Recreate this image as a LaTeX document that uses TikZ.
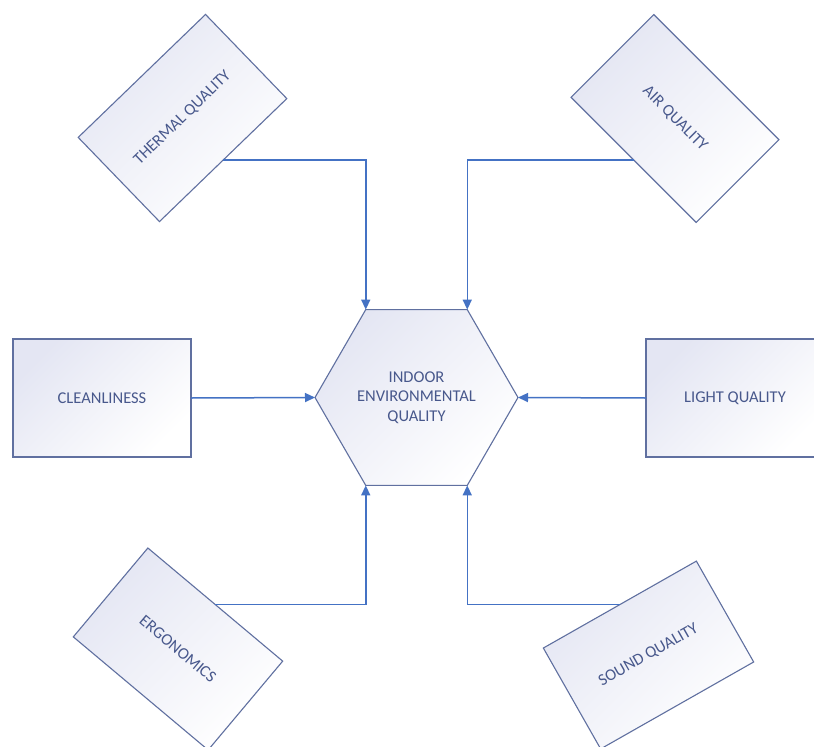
\documentclass[tikz,border=0pt]{standalone}
\usepackage{fontspec}
\setmainfont{Carlito}
\usetikzlibrary{shapes.geometric,arrows.meta}
\definecolor{txt}{RGB}{72,88,140}
\definecolor{edge}{RGB}{96,112,160}
\definecolor{arrc}{RGB}{68,114,196}
\definecolor{lav}{RGB}{228,230,243}
\tikzset{
  box/.style={draw=edge, line width=1.1pt, inner sep=0pt, outer sep=0pt,
    minimum width=177pt, minimum height=117pt, text=txt,
    font=\fontsize{16.5}{19.6}\selectfont,
    top color=lav, bottom color=white, shading angle=45},
  hexbox/.style={draw=edge, line width=1.1pt, regular polygon, regular polygon sides=6,
    minimum size=203pt, inner sep=0pt, outer sep=0pt, text=txt, align=center,
    font=\fontsize{16.5}{19.6}\selectfont,
    top color=lav, bottom color=white, shading angle=45},
  arr/.style={draw=arrc, line width=1.5pt, -{Triangle[length=10pt,width=9pt]}}
}
\begin{document}
\begin{tikzpicture}[x=1pt,y=-1pt]
\useasboundingbox[fill=white] (0,0) rectangle (814,747);
\node[hexbox] (hex) at (416.5,397.5) {INDOOR\\ENVIRONMENTAL\\QUALITY};
\node[box, rotate=44] (thermal) at (182.5,118) {THERMAL QUALITY};
\node[box, rotate=-45] (air) at (675,118.5) {AIR QUALITY};
\node[box, minimum width=178pt, minimum height=118pt] (clean) at (102,398) {CLEANLINESS};
\node[box, minimum width=178pt, minimum height=118pt] (light) at (735,398) {LIGHT QUALITY};
\node[box, rotate=-40, minimum width=176pt, minimum height=116pt] (ergo) at (178,649) {ERGONOMICS};
\node[box, rotate=29.6, minimum width=176pt, minimum height=116pt] (sound) at (648.5,655) {SOUND QUALITY};
\draw[arr] (thermal.south) -| (hex.120);
\draw[arr] (air.south) -| (hex.60);
\draw[arr] (clean.east) -- (hex.180);
\draw[arr] (light.west) -- (hex.0);
\draw[arr] (ergo.north) -| (hex.240);
\draw[arr] (sound.north) -| (hex.300);
\end{tikzpicture}
\end{document}
